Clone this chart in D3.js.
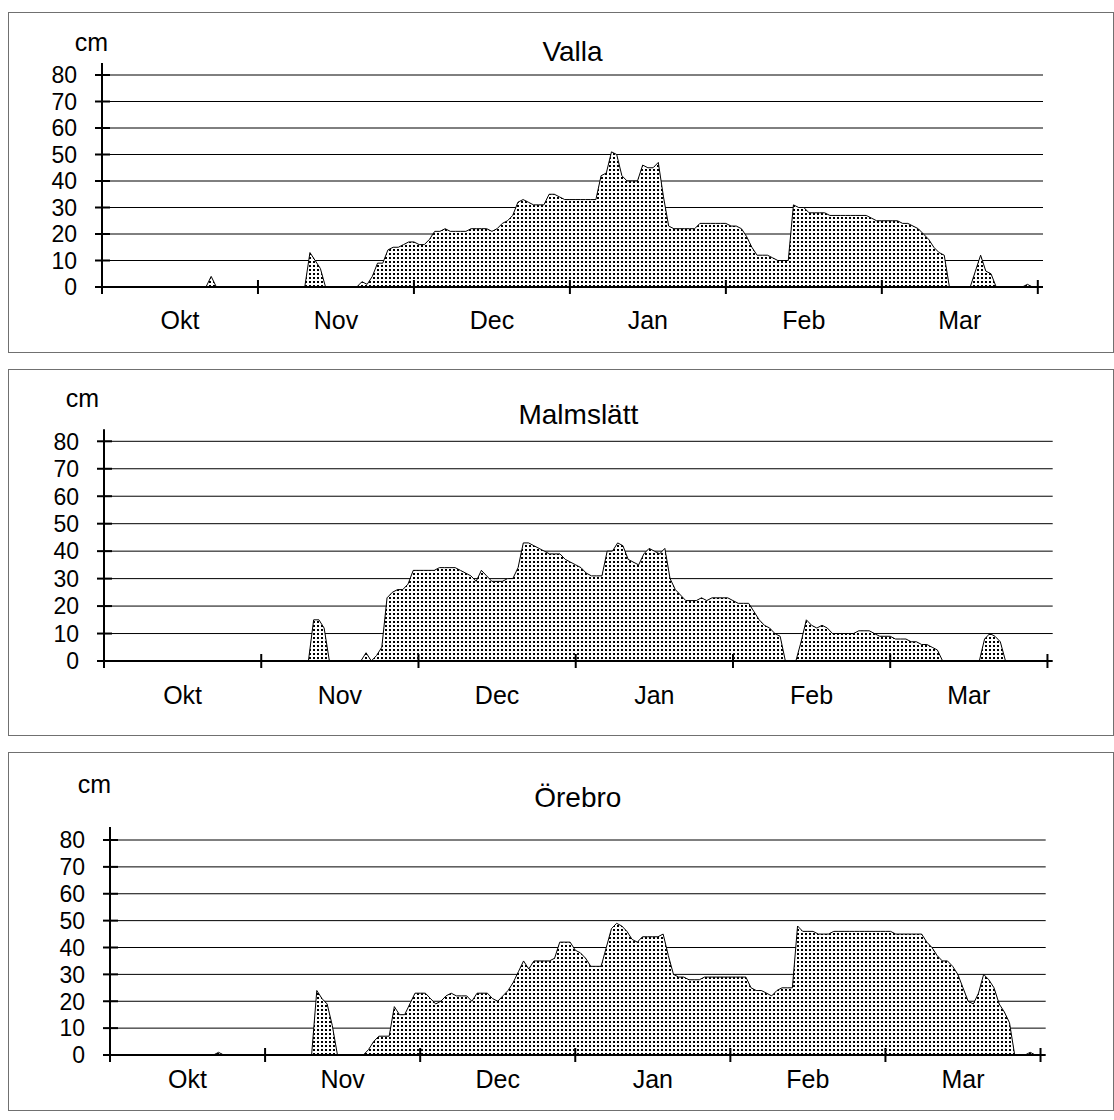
<!DOCTYPE html>
<html>
<head>
<meta charset="utf-8">
<script src="https://cdn.jsdelivr.net/npm/d3@7/dist/d3.min.js"></script>
<style>
  html, body { margin: 0; padding: 0; background: #fff; }
  svg { display: block; }
  text { font-family: "Liberation Sans", Arial, sans-serif; fill: #000; }
</style>
</head>
<body>
<svg id="chart" width="1114" height="1120"></svg>
<script>
// ---- data (snow depth, cm; one value per day-category, 181 categories) ----
const months = ["Okt", "Nov", "Dec", "Jan", "Feb", "Mar"];
const yTicks = [0, 10, 20, 30, 40, 50, 60, 70, 80];
const stations = ["Valla", "Malmslätt", "Örebro"];

const valla = [
  0,0,0,0,0,0,0,0,0,0, 0,0,0,0,0,0,0,0,0,0,
  0,4,0,0,0,0,0,0,0,0, 0,0,0,0,0,0,0,0,0,0,
  13,10,7,0,0,0,0,0,0,0, 2,1,4,9,9,14,15,15,16,17,
  17,16,16,18,21,21,22,21,21,21, 21,22,22,22,22,21,22,24,25,27,
  32,33,32,31,31,31,35,35,34,33, 33,33,33,33,33,33,42,43,51,50,
  42,40,40,40,46,45,45,47,34,23, 22,22,22,22,22,24,24,24,24,24,
  24,23,23,22,19,15,12,12,12,11, 10,10,10,31,30,30,28,28,28,28,
  27,27,27,27,27,27,27,27,26,25, 25,25,25,25,24,24,23,22,20,18,
  15,13,12,0,0,0,0,0,6,12, 6,5,0,0,0,0,0,0,1,0,
  0
];

const malmslatt = [
  0,0,0,0,0,0,0,0,0,0, 0,0,0,0,0,0,0,0,0,0,
  0,0,0,0,0,0,0,0,0,0, 0,0,0,0,0,0,0,0,0,0,
  15,15,12,0,0,0,0,0,0,0, 3,0,2,5,23,25,26,26,28,33,
  33,33,33,33,34,34,34,34,33,32, 31,29,33,31,29,29,29,30,30,34,
  43,43,42,41,40,39,39,39,37,36, 35,34,32,31,31,31,40,40,43,42,
  37,36,35,39,41,40,39,41,30,26, 24,22,22,22,23,22,23,23,23,23,
  22,21,21,21,18,15,13,12,10,9, 0,0,0,7,15,13,12,13,12,10,
  10,10,10,10,11,11,11,10,9,9, 9,8,8,8,7,7,6,6,5,4,
  0,0,0,0,0,0,0,0,8,10, 9,7,0,0,0,0,0,0,0,0,
  0
];

const orebro = [
  0,0,0,0,0,0,0,0,0,0, 0,0,0,0,0,0,0,0,0,0,
  0,1,0,0,0,0,0,0,0,0, 0,0,0,0,0,0,0,0,0,0,
  24,21,19,11,0,0,0,0,0,0, 2,5,7,7,7,18,15,15,19,23,
  23,23,21,19,20,22,23,22,22,22, 20,23,23,23,21,20,22,24,27,31,
  35,32,35,35,35,35,36,42,42,42, 39,38,36,33,33,33,40,47,49,48,
  46,43,42,44,44,44,44,45,37,30, 29,29,28,28,28,29,29,29,29,29,
  29,29,29,29,25,24,24,23,22,24, 25,25,25,48,46,46,46,45,45,45,
  46,46,46,46,46,46,46,46,46,46, 46,46,45,45,45,45,45,45,42,40,
  37,35,35,33,30,25,20,19,23,30, 28,25,19,16,12,0,0,0,1,0,
  0
];

const series = [valla, malmslatt, orebro];

// ---- layout (pixel geometry of each panel) ----
const layout = [
  { frame: [8.5, 12.5, 1113.5, 352.5], x0: 102, x1: 1043, yBase: 287, yTop: 75,
    titleY: 61, cmRight: 108, cmY: 51, monthY: 329, axisTopExtra: 12 },
  { frame: [8.5, 369.5, 1113.5, 735.5], x0: 104, x1: 1052.7, yBase: 661, yTop: 441.3,
    titleY: 424, cmRight: 99, cmY: 407, monthY: 704, axisTopExtra: 12 },
  { frame: [8.5, 752.5, 1113.5, 1110.5], x0: 110, x1: 1045.7, yBase: 1055, yTop: 840,
    titleY: 807, cmRight: 111, cmY: 793, monthY: 1088, axisTopExtra: 13 }
];

const svg = d3.select("#chart");
const defs = svg.append("defs");
const pat = defs.append("pattern")
  .attr("id", "dots").attr("patternUnits", "userSpaceOnUse")
  .attr("width", 4).attr("height", 4);
pat.append("rect").attr("width", 4).attr("height", 4).attr("fill", "#fff");
pat.append("rect").attr("x", 1).attr("y", 1).attr("width", 2).attr("height", 2).attr("fill", "#000");

const N = 181;

stations.forEach((name, p) => {
  const L = layout[p];
  const data = series[p];
  const g = svg.append("g");

  // frame
  g.append("rect")
    .attr("x", L.frame[0]).attr("y", L.frame[1])
    .attr("width", L.frame[2] - L.frame[0]).attr("height", L.frame[3] - L.frame[1])
    .attr("fill", "#fff").attr("stroke", "#707070").attr("stroke-width", 1);

  const x = d3.scaleLinear().domain([0, N]).range([L.x0, L.x1]);
  const y = d3.scaleLinear().domain([0, 80]).range([L.yBase, L.yTop]);

  // gridlines
  g.append("g").selectAll("line").data(yTicks.filter(t => t > 0)).join("line")
    .attr("x1", L.x0).attr("x2", L.x1)
    .attr("y1", d => y(d)).attr("y2", d => y(d))
    .attr("stroke", "#000").attr("stroke-width", 1);

  // area
  const area = d3.area().x((d, i) => x(i)).y0(y(0)).y1(d => y(d));
  const line = d3.line().x((d, i) => x(i)).y(d => y(d));
  g.append("path").datum(data).attr("d", area).attr("fill", "url(#dots)").attr("stroke", "none");
  g.append("path").datum(data).attr("d", line).attr("fill", "none")
    .attr("stroke", "#000").attr("stroke-width", 1).attr("stroke-linejoin", "round");

  // y axis line
  g.append("line")
    .attr("x1", L.x0).attr("x2", L.x0)
    .attr("y1", L.yTop - L.axisTopExtra).attr("y2", L.yBase + 7)
    .attr("stroke", "#000").attr("stroke-width", 2);
  // y ticks (crossing)
  g.append("g").selectAll("line").data(yTicks).join("line")
    .attr("x1", L.x0 - 7).attr("x2", L.x0 + 8)
    .attr("y1", d => y(d)).attr("y2", d => y(d))
    .attr("stroke", "#000").attr("stroke-width", 2);
  // y tick labels
  g.append("g").selectAll("text").data(yTicks).join("text")
    .attr("x", L.x0 - 25).attr("y", d => y(d))
    .attr("dy", "0.36em").attr("text-anchor", "end")
    .attr("font-size", 23).text(d => d);

  // x axis
  g.append("line")
    .attr("x1", L.x0 - 7).attr("x2", L.x1)
    .attr("y1", y(0)).attr("y2", y(0))
    .attr("stroke", "#000").attr("stroke-width", 2);
  const xt = d3.range(0, months.length + 1).map(k => k * 30);
  g.append("g").selectAll("line").data(xt).join("line")
    .attr("x1", d => x(d)).attr("x2", d => x(d))
    .attr("y1", y(0) - 7).attr("y2", y(0) + 7)
    .attr("stroke", "#000").attr("stroke-width", 2);
  g.append("g").selectAll("text").data(months).join("text")
    .attr("x", (d, k) => x(k * 30 + 15)).attr("y", L.monthY)
    .attr("text-anchor", "middle").attr("font-size", 25).text(d => d);

  // unit label
  g.append("text").attr("x", L.cmRight).attr("y", L.cmY)
    .attr("text-anchor", "end").attr("font-size", 25).text("cm");

  // title
  g.append("text").attr("x", (L.x0 + L.x1) / 2).attr("y", L.titleY)
    .attr("text-anchor", "middle").attr("font-size", 28).text(name);
});
</script>
</body>
</html>
